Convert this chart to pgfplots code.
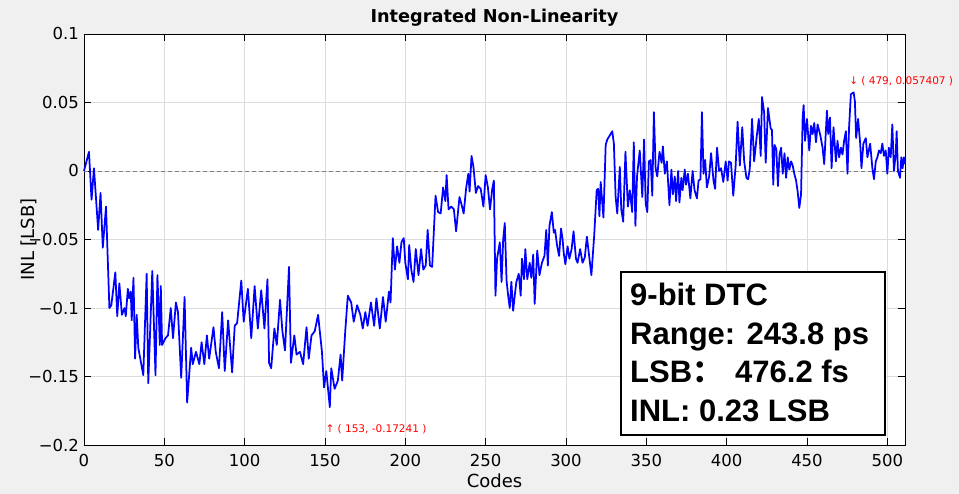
\documentclass[border=0pt]{standalone}
\usepackage{fontspec}
\setmainfont{DejaVu Sans}
\newfontfamily\lib{Liberation Sans}
\newfontfamily\cjk{Noto Sans CJK SC}
\usepackage{pgfplots}
\pgfplotsset{compat=1.18}
\definecolor{bggray}{RGB}{240,240,240}
\definecolor{gridgray}{RGB}{220,220,220}
\definecolor{inlblue}{RGB}{0,0,255}
\definecolor{annred}{RGB}{255,0,0}

\begin{document}
\begin{tikzpicture}
\fill[bggray] (-84pt,-49pt) rectangle (875pt,445pt);
\begin{axis}[
  at={(0,0)}, anchor=south west,
  scale only axis, width=821pt, height=411pt,
  xmin=0, xmax=511, ymin=-0.2, ymax=0.1,
  clip=false,
  axis background/.style={fill=white},
  axis line style={black, line width=0.8pt},
  major tick length=7pt,
  tick style={black, line width=0.6pt},
  grid=major,
  major grid style={gridgray, line width=0.7pt},
  xtick={0,50,100,150,200,250,300,350,400,450,500},
  xticklabels={0,50,100,150,200,250,300,350,400,450,500},
  ytick={-0.2,-0.15,-0.1,-0.05,0,0.05,0.1},
  yticklabels={−0.2,−0.15,−0.1,−0.05,0,0.05,0.1},
  /pgf/number format/assume math mode=true,
  xticklabel style={font=\fontsize{16.5}{18}\selectfont, yshift=-6pt},
  yticklabel style={font=\fontsize{16.5}{18}\selectfont, xshift=-1.5pt},
  title={Integrated Non-Linearity},
  every axis title/.style={at={(axis description cs:0.5,1)}, anchor=base,
    yshift=11.3pt, font=\bfseries\fontsize{17.7}{20}\selectfont},
  xlabel={Codes},
  every axis x label/.style={at={(axis description cs:0.5,0)}, anchor=base,
    yshift=-43pt, font=\fontsize{18}{20}\selectfont},
  ylabel={INL [LSB]},
  every axis y label/.style={at={(axis description cs:-0.0605,0.5)}, rotate=90,
    anchor=base, font=\fontsize{18}{20}\selectfont},
]
\addplot[gray, dashed, line width=0.8pt, dash pattern=on 4pt off 3pt]
  coordinates {(0,0) (511,0)};
\addplot[inlblue, line width=1.75pt, line join=round] coordinates {
(0,0.000) (3.1,0.014) (4.7,-0.021) (6.2,0.002) (8.8,-0.043) (10.3,-0.016)
(11.7,-0.056) (13.7,-0.026) (15.8,-0.100) (17,-0.098) (19.5,-0.074) (20.7,-0.106)
(22,-0.082) (23.6,-0.105) (25.2,-0.100) (26,-0.106) (27.3,-0.086) (28.1,-0.093)
(29.1,-0.088) (29.7,-0.109) (30.8,-0.078) (31.8,-0.137) (32.8,-0.105) (33.8,-0.129)
(35.5,-0.140) (36.9,-0.149) (39,-0.075) (40,-0.155) (42.5,-0.073) (44.5,-0.149)
(45.7,-0.076) (47.2,-0.127) (47.8,-0.084) (48.6,-0.127) (50.7,-0.122) (52.3,-0.120)
(54,-0.100) (55.4,-0.122) (57.2,-0.096) (58.5,-0.103) (60.5,-0.151) (62.6,-0.092)
(64.2,-0.169) (66.7,-0.129) (67.7,-0.141) (69.7,-0.132) (71.8,-0.141) (73.2,-0.125)
(74.9,-0.141) (76.5,-0.120) (77.9,-0.137) (80.6,-0.114) (82,-0.132)
(84,-0.144) (86,-0.103) (87.6,-0.146) (89.7,-0.109) (92.2,-0.147) (93.8,-0.113)
(95.3,-0.111) (97.9,-0.080) (99.4,-0.110) (102,-0.086) (104.1,-0.122) (106.2,-0.084)
(108.2,-0.115) (110.3,-0.087) (112.3,-0.115) (114.2,-0.079) (115.2,-0.140) (116.5,-0.144)
(118.5,-0.115) (120,-0.127) (122,-0.094) (123.5,-0.117) (125.1,-0.131) (127.6,-0.070)
(128.8,-0.140) (130.9,-0.120) (132.3,-0.134) (134.4,-0.132) (136.4,-0.141) (138.5,-0.114)
(139.9,-0.137) (141.6,-0.120) (143.6,-0.117) (145.7,-0.105) (148.1,-0.132) (149.4,-0.158)
(150.8,-0.146) (153,-0.17241) (153.9,-0.144) (156,-0.159) (158,-0.153) (159.7,-0.134)
(160.7,-0.153) (162.6,-0.117) (164.2,-0.091) (166.3,-0.096) (167.9,-0.110) (170,-0.098)
(172,-0.105) (173.5,-0.115) (175.1,-0.103) (176.5,-0.113) (178.6,-0.096) (180.6,-0.113)
(182,-0.093) (184.1,-0.115) (186.1,-0.092) (187.8,-0.110) (189.8,-0.088) (190.8,-0.096)
(192.2,-0.049) (193.5,-0.072) (194.9,-0.055) (196.3,-0.067) (197.6,-0.052) (199,-0.049)
(200,-0.067) (201.6,-0.079) (202.4,-0.054) (203.7,-0.072) (205.1,-0.081) (206.5,-0.057)
(208.2,-0.076) (209.8,-0.057) (211.2,-0.072) (212.7,-0.069) (213.9,-0.043) (215.3,-0.069)
(216.7,-0.070) (218.8,-0.018) (220.4,-0.030) (222,-0.031) (223.5,-0.012) (224.9,-0.022)
(225.7,-0.003) (226.9,-0.028) (228.6,-0.026) (230.2,-0.028) (231.6,-0.044) (233.7,-0.019)
(235.1,-0.025) (236.3,-0.031) (237.8,-0.013) (239.2,-0.002) (240,-0.015) (241.2,0.011)
(242.4,0.003) (243.9,-0.016) (245.3,-0.011) (246.9,-0.013) (248.6,-0.026) (250,-0.003)
(251.4,-0.012) (252.7,-0.028) (254.1,-0.013) (255.1,-0.007) (256.1,-0.091) (257.1,-0.064)
(258.8,-0.052) (259.9,-0.081) (260.9,-0.050) (261.9,-0.038) (263,-0.080) (264,-0.091)
(265,-0.100) (266,-0.081) (267.1,-0.102) (268.1,-0.091) (269.1,-0.081) (270.6,-0.075)
(271.8,-0.091) (272.6,-0.064) (273.9,-0.079) (274.7,-0.057) (275.9,-0.079) (277.4,-0.067)
(278.4,-0.078) (279.6,-0.061) (280.5,-0.097) (282.1,-0.058) (283.5,-0.076) (285,-0.067)
(286.6,-0.062) (287.7,-0.043) (288.7,-0.069) (289.7,-0.040) (291.2,-0.030) (292.4,-0.045)
(293.2,-0.043) (294.4,-0.054) (295.7,-0.062) (296.9,-0.042) (297.9,-0.050) (298.6,-0.060)
(299.6,-0.068) (301,-0.055) (302.1,-0.064) (303.5,-0.057) (304.7,-0.044) (306.2,-0.064)
(307.2,-0.067) (308.8,-0.057) (310.3,-0.067) (311.7,-0.063) (313,-0.048) (314.4,-0.062)
(315.8,-0.076) (317.5,-0.048) (319.1,-0.014) (320,-0.013) (320.8,-0.033) (321.6,-0.008)
(323.3,-0.034) (324.7,0.019) (325.7,0.023) (327.8,0.027) (328.8,0.029) (329.8,0.020)
(330.9,-0.019) (331.9,-0.031) (333.5,0.003) (334.4,-0.028) (335.6,-0.037) (337,0.014)
(338.5,-0.026) (339.7,-0.014) (341.2,-0.030) (342.2,0.021) (343.2,-0.040) (344.2,-0.004)
(345.9,0.015) (347.5,-0.019) (348.6,0.023) (349.6,-0.024) (350.6,-0.030) (351.6,0.007)
(352.7,0.008) (353.7,-0.018) (354.7,0.043) (355.8,0.002) (356.8,-0.004) (358.2,0.014)
(359.5,0.006) (360.3,0.018) (361.5,-0.002) (362.8,0.007) (364.4,-0.025) (365.6,0.001)
(366.5,-0.017) (367.7,-0.004) (368.5,-0.022) (369.8,0.000) (370.6,-0.023) (371.8,-0.005)
(372.6,-0.014) (373.9,0.001) (374.7,-0.010) (375.9,-0.002) (377.4,-0.020) (378.8,0.000)
(380,-0.014) (381.5,-0.020) (382.5,-0.007) (383.7,-0.006) (384.6,0.043) (385.6,-0.002)
(386.6,0.008) (387.7,-0.012) (389.1,-0.004) (390.3,0.013) (391.8,-0.007) (392.8,-0.013)
(394,0.017) (395.3,0.000) (396.5,0.002) (397.9,-0.008) (399.4,0.007) (400.6,-0.007)
(401.4,0.007) (402.7,0.006) (404.1,-0.018) (405.6,0.004) (406.8,0.036) (408.2,0.004)
(409.7,0.032) (410.9,0.007) (412.3,-0.005) (413.4,-0.006) (414.4,0.002) (415.8,0.038)
(417.1,0.007) (418.5,0.023) (420,0.038) (421.2,0.011) (422,0.054) (423.3,0.043)
(424.3,0.006) (425.7,0.046) (427.4,0.031) (428.2,0.030) (429,-0.010) (429.8,0.019)
(430.9,0.016) (431.9,-0.011) (432.9,0.012) (433.9,0.017) (434.9,-0.002) (436,0.013)
(437,-0.005) (438,0.010) (439,0.001) (440.1,0.007) (441.1,0.004) (442.1,-0.002)
(443.2,-0.007) (444.2,-0.015) (445.2,-0.027) (446.3,-0.017) (447.3,0.039) (447.9,0.048)
(448.8,0.022) (450,0.038) (451.4,0.015) (452.5,0.033) (453.5,0.027) (454.5,0.035)
(455.6,0.021) (456.6,0.034) (458.3,0.026) (459.7,0.017) (460.7,0.005) (462.4,0.044)
(463.2,0.027) (464.3,0.039) (465.3,0.002) (466.5,0.032) (468,0.007) (469,0.022)
(470,0.010) (471.1,0.017) (472.1,0.012) (473.1,0.022) (474.2,0.029) (475.2,-0.002)
(476.2,0.032) (477.3,0.056) (479,0.057407) (479.8,0.051) (480.6,0.024) (481.8,0.038)
(483.1,0.020) (483.9,0.002) (485.1,0.020) (486.6,0.024) (487.6,0.010) (489.3,0.020)
(490.7,0.002) (491.7,-0.006) (492.8,0.007) (493.8,0.010) (494.8,0.015) (495.9,0.013)
(496.9,0.020) (497.9,0.011) (499,0.015) (500,-0.002) (501,0.017) (502.1,0.010)
(503.1,0.034) (504.1,0.000) (505.2,0.012) (505.8,0.029) (506.6,0.000) (507.9,-0.005)
(508.7,0.010) (509.5,0.002) (510.3,0.010) (511,0.005)
};
\node[anchor=base west, inner sep=0, text=annred, font=\fontsize{10.5}{12}\selectfont,
  xshift=-4.5pt, yshift=8pt] at (axis cs:479,0.057407) {↓ ( 479, 0.057407 )};
\node[anchor=base west, inner sep=0, text=annred, font=\fontsize{10.5}{12}\selectfont,
  xshift=-4.5pt, yshift=-25pt] at (axis cs:153,-0.17241) {↑ ( 153, -0.17241 )};
\end{axis}
% statistics box
\draw[black, line width=1.8pt, fill=white] (537pt,10pt) rectangle (801pt,173pt);
\begin{scope}[every node/.style={anchor=base west, inner sep=0,
    font=\lib\bfseries\fontsize{31}{36}\selectfont}]
\node at (546pt,139pt) {9-bit DTC};
\node at (546pt,100pt) {Range: 243.8 ps};
\node at (546pt,62pt) {LSB{\cjk ：}\hspace{12pt}476.2 fs};
\node at (546pt,23pt) {INL: 0.23 LSB};
\end{scope}
\pgfresetboundingbox
\path[use as bounding box] (-84pt,-49pt) rectangle (875pt,445pt);
\end{tikzpicture}
\end{document}
